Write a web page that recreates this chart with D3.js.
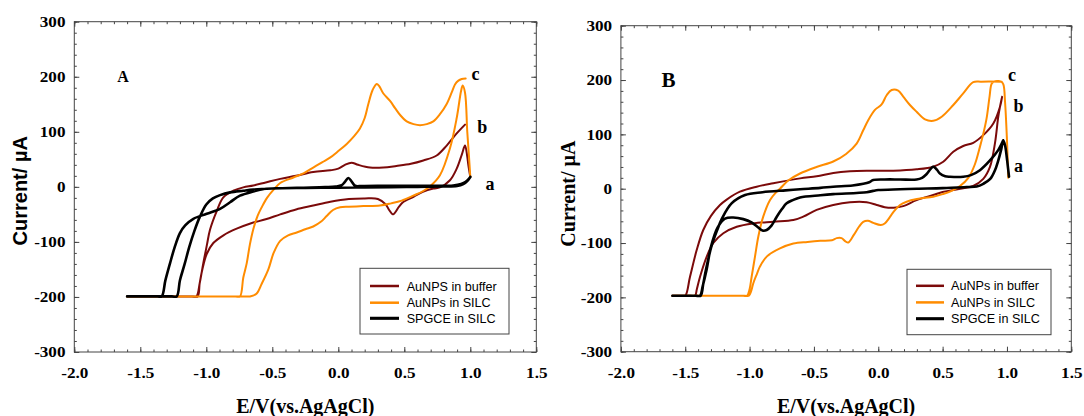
<!DOCTYPE html>
<html>
<head>
<meta charset="utf-8">
<script src="https://cdn.jsdelivr.net/npm/d3@7"></script>
<style>
body{margin:0;background:#fff;}
svg{display:block;}
</style>
</head>
<body>
<svg id="chart" width="1084" height="416"></svg>
<script>
// each series is [E (V), I (uA)] in scan order

// panel A
var blackA = [[1.00,18],[0.975,10],[0.947,5],[0.90,1.5],[0.80,0.5],[0.60,0],[0.40,-0.5],[0.20,-1],[0.0,-1.5],[-0.25,-2],[-0.45,-2.5],[-0.56,-4],[-0.644,-8.5],[-0.745,-16],[-0.82,-28],[-0.896,-40],[-0.997,-49],[-1.098,-58],[-1.16,-70],[-1.20,-84],[-1.24,-110],[-1.275,-139],[-1.31,-170],[-1.338,-199],[-1.37,-199],[-1.60,-199],[-1.26,-199],[-1.224,-199],[-1.20,-170],[-1.165,-141],[-1.13,-110],[-1.09,-80],[-1.05,-55],[-1.0,-32],[-0.95,-21],[-0.896,-15],[-0.82,-10],[-0.72,-7],[-0.644,-5],[-0.5,-3],[-0.3,-1.5],[-0.1,-0.5],[-0.02,0.5],[0.026,3],[0.05,9],[0.076,16],[0.10,10],[0.127,2],[0.18,1.5],[0.4,2],[0.7,2],[0.87,2.5],[0.93,5],[0.965,9],[1.00,18]];
var darkRedA = [[1.00,18],[0.985,40],[0.977,55],[0.96,75],[0.935,58],[0.897,33],[0.846,12],[0.77,-1],[0.72,-3],[0.64,-9],[0.57,-18],[0.49,-28],[0.46,-36],[0.415,-50],[0.385,-42],[0.36,-32],[0.30,-22],[0.2,-21],[0.08,-22],[-0.06,-27],[-0.19,-34],[-0.32,-41],[-0.44,-50],[-0.55,-59],[-0.66,-66],[-0.77,-76],[-0.87,-88],[-0.947,-102],[-0.997,-122],[-1.03,-150],[-1.05,-175],[-1.065,-199],[-1.10,-199],[-1.60,-199],[-1.11,-199],[-1.075,-199],[-1.05,-175],[-1.023,-139],[-0.995,-105],[-0.972,-78],[-0.921,-44],[-0.871,-19],[-0.795,-7],[-0.72,-1],[-0.644,2.4],[-0.55,8],[-0.44,14.5],[-0.32,20],[-0.19,27],[-0.06,30],[0.0,33],[0.05,40],[0.10,44],[0.15,40],[0.24,35],[0.34,35],[0.44,38],[0.55,42],[0.644,48],[0.745,57],[0.821,75],[0.897,97],[0.96,113]];
var orangeA = [[1.00,18],[0.99,55],[0.977,100],[0.96,171],[0.942,184],[0.93,174],[0.897,125],[0.846,70],[0.77,21],[0.70,2],[0.64,-8],[0.568,-16],[0.48,-25],[0.40,-30],[0.316,-34],[0.19,-35],[0.08,-36],[0.013,-37],[-0.04,-42],[-0.088,-53],[-0.13,-63],[-0.19,-72],[-0.25,-77],[-0.315,-83],[-0.38,-88],[-0.44,-98],[-0.49,-120],[-0.53,-150],[-0.58,-176],[-0.62,-194],[-0.669,-199],[-0.70,-199],[-1.60,-199],[-0.78,-199],[-0.745,-199],[-0.72,-165],[-0.694,-139],[-0.67,-105],[-0.644,-77],[-0.61,-52],[-0.58,-37],[-0.54,-20],[-0.49,-5],[-0.44,7],[-0.34,17],[-0.26,25],[-0.19,35],[-0.12,45],[-0.063,53],[0.0,65],[0.064,78],[0.12,92],[0.164,106],[0.20,125],[0.227,150],[0.26,176],[0.291,187],[0.31,183],[0.34,170],[0.392,156],[0.43,143],[0.47,130],[0.518,119],[0.57,114],[0.619,112],[0.67,114],[0.72,119],[0.77,132],[0.82,150],[0.86,172],[0.884,186],[0.91,193],[0.935,196],[0.965,197]];

// panel B
var blackB = [[1.016,22],[1.0,55],[0.985,80],[0.971,89],[0.955,72],[0.93,50],[0.907,34],[0.87,18],[0.816,9],[0.765,4],[0.687,3],[0.50,1],[0.30,0],[0.169,-1],[0.0,-2.5],[-0.04,-4],[-0.09,-6.5],[-0.35,-10],[-0.45,-12],[-0.608,-16],[-0.665,-21],[-0.712,-27],[-0.75,-38],[-0.79,-52],[-0.83,-68],[-0.867,-76],[-0.90,-77],[-0.935,-71],[-0.985,-62],[-1.049,-56],[-1.127,-53],[-1.191,-55],[-1.25,-72],[-1.30,-107],[-1.335,-150],[-1.365,-180],[-1.385,-197],[-1.42,-197],[-1.60,-197],[-1.41,-197],[-1.38,-197],[-1.36,-175],[-1.34,-150],[-1.295,-105],[-1.25,-75],[-1.215,-55],[-1.14,-27],[-1.035,-11.6],[-0.9,-6.5],[-0.72,-3],[-0.608,-1],[-0.45,1.5],[-0.35,3.7],[-0.2,6],[-0.116,9],[-0.07,12],[-0.039,16],[0.05,17],[0.169,17],[0.298,17],[0.34,20],[0.376,27],[0.427,40.5],[0.455,35],[0.479,28],[0.52,23],[0.557,22],[0.66,22],[0.72,25],[0.79,34],[0.868,52],[0.932,71],[0.971,89]];
var darkRedB = [[0.962,169],[0.945,150],[0.932,132],[0.907,84],[0.868,40],[0.816,18],[0.738,5],[0.66,1],[0.583,-2.4],[0.50,-6],[0.427,-11.6],[0.298,-21],[0.194,-32],[0.12,-35],[0.05,-34],[-0.012,-30],[-0.09,-25],[-0.22,-25],[-0.35,-30],[-0.479,-39],[-0.583,-51.5],[-0.66,-57.7],[-0.816,-60.7],[-0.971,-63.8],[-1.10,-70],[-1.204,-82],[-1.282,-100],[-1.333,-125],[-1.385,-162],[-1.41,-185],[-1.424,-197],[-1.46,-197],[-1.60,-197],[-1.53,-197],[-1.50,-197],[-1.463,-162],[-1.411,-113],[-1.36,-76],[-1.30,-50],[-1.23,-30],[-1.178,-20],[-1.075,-5.5],[-0.945,3.7],[-0.816,10],[-0.608,19],[-0.479,23],[-0.349,29],[-0.22,32],[-0.09,33],[0.117,33],[0.298,35.6],[0.427,40.5],[0.505,49.7],[0.583,68],[0.66,78.6],[0.738,84.5],[0.816,98.6],[0.894,120],[0.946,150.8],[0.962,169]];
var orangeB = [[1.01,20],[1.0,90],[0.985,160],[0.972,192],[0.955,197],[0.90,197],[0.881,193],[0.865,170],[0.842,130],[0.815,100],[0.79,77],[0.751,45],[0.70,20],[0.635,5],[0.57,-4],[0.50,-10],[0.427,-14.7],[0.30,-19],[0.22,-24],[0.169,-30],[0.12,-42],[0.091,-52],[0.05,-64],[0.02,-67],[-0.039,-63],[-0.08,-59],[-0.117,-61],[-0.15,-70],[-0.19,-85],[-0.233,-99],[-0.255,-97],[-0.285,-91],[-0.323,-91],[-0.36,-95],[-0.45,-96],[-0.55,-98],[-0.66,-101],[-0.764,-110],[-0.867,-125],[-0.919,-143],[-0.945,-158],[-0.971,-174],[-0.99,-190],[-1.005,-197],[-1.04,-197],[-1.60,-197],[-1.05,-197],[-1.02,-197],[-1.0,-185],[-0.984,-162],[-0.958,-125],[-0.932,-88],[-0.894,-51.5],[-0.841,-20.8],[-0.80,-8],[-0.764,0],[-0.70,15],[-0.608,28],[-0.48,40],[-0.35,50],[-0.25,64],[-0.168,83],[-0.116,108],[-0.078,126],[-0.026,145],[0.026,155],[0.065,172],[0.104,181.6],[0.155,180.4],[0.194,169.4],[0.246,154],[0.298,141.6],[0.363,127.6],[0.427,125],[0.493,132.4],[0.583,154],[0.66,175.4],[0.738,196],[0.80,197],[0.96,197]];

var xTicks = [-2.0,-1.5,-1.0,-0.5,0.0,0.5,1.0,1.5];
var yTicks = [-300,-200,-100,0,100,200,300];
var legendA = ["AuNPS in buffer","AuNPs in SILC","SPGCE in SILC"];
var legendB = ["AuNPs in buffer","AuNPs in SILC","SPGCE in SILC"];
var colors = ["#7b0a0a","#ff8c00","#000000"];
var widths = [2, 2, 2.6];

var svg = d3.select("#chart");
var serif = "'Liberation Serif','Times New Roman',serif";
var sans = "'Liberation Sans',Arial,sans-serif";

var panels = [
  {left:74.3, right:536.3, top:21.7, bottom:352, series:[darkRedA, orangeA, blackA], legend:legendA,
   name:"A", nameSize:16, yFont:sans,
   labels:[{t:"c",x:1.04,y:205},{t:"b",x:1.09,y:110},{t:"a",x:1.15,y:5}],
   leg:{x0:360, x1:509, y0:268.3, y1:334, lx0:370, lx1:399, tx:406.7, rows:[286,302.7,318.3]},
   ylab:{x:20, y:190.8}},
  {left:620.9, right:1071.3, top:25.7, bottom:351.7, series:[darkRedB, orangeB, blackB], legend:legendB,
   name:"B", nameSize:21, yFont:serif,
   labels:[{t:"c",x:1.04,y:209},{t:"b",x:1.09,y:152},{t:"a",x:1.09,y:42}],
   leg:{x0:907, x1:1051, y0:269.3, y1:334.7, lx0:916, lx1:944, tx:951, rows:[285.8,302.4,318.7]},
   ylab:{x:568, y:193.6}}
];

panels.forEach(function(p){
  var x = d3.scaleLinear().domain([-2, 1.5]).range([p.left, p.right]);
  var y = d3.scaleLinear().domain([-300, 300]).range([p.bottom, p.top]);
  var g = svg.append("g");

  // frame
  g.append("rect").attr("x", p.left).attr("y", p.top)
    .attr("width", p.right - p.left).attr("height", p.bottom - p.top)
    .attr("fill", "none").attr("stroke", "#444").attr("stroke-width", 1);

  // minor ticks, all four sides, pointing in
  var xm = x.ticks(35), ym = y.ticks(30);
  var axes = [
    [d3.axisBottom(x).tickValues(xm).tickSize(-2.5), "translate(0," + p.bottom + ")"],
    [d3.axisTop(x).tickValues(xm).tickSize(-2.5), "translate(0," + p.top + ")"],
    [d3.axisLeft(y).tickValues(ym).tickSize(-2.5), "translate(" + p.left + ",0)"],
    [d3.axisRight(y).tickValues(ym).tickSize(-2.5), "translate(" + p.right + ",0)"],
    [d3.axisTop(x).tickValues(xTicks).tickSize(-5), "translate(0," + p.top + ")"],
    [d3.axisRight(y).tickValues(yTicks).tickSize(-5), "translate(" + p.right + ",0)"]
  ];
  axes.forEach(function(a){
    var ag = g.append("g").attr("transform", a[1]).call(a[0].tickFormat(""));
    ag.select(".domain").remove();
    ag.selectAll("line").attr("stroke", "#444");
  });

  // major ticks with labels
  var xb = g.append("g").attr("transform", "translate(0," + p.bottom + ")")
    .call(d3.axisBottom(x).tickValues(xTicks).tickSize(-5).tickPadding(16)
      .tickFormat(function(d){ return d.toFixed(1); }));
  var yl = g.append("g").attr("transform", "translate(" + p.left + ",0)")
    .call(d3.axisLeft(y).tickValues(yTicks).tickSize(-5).tickPadding(7.5)
      .tickFormat(function(d){ return String(d); }));
  [xb, yl].forEach(function(ag){
    ag.select(".domain").remove();
    ag.selectAll("line").attr("stroke", "#444");
    ag.selectAll("text").attr("fill", "#000")
      .style("font-family", serif).style("font-weight", "bold").style("font-size", "14.5px")
      .attr("transform", "scale(1.18,1)");
  });

  // curves
  var line = d3.line().x(function(d){ return x(d[0]); }).y(function(d){ return y(d[1]); })
    .curve(d3.curveCatmullRom.alpha(0.5));
  p.series.forEach(function(s, i){
    g.append("path").attr("d", line(s)).attr("fill", "none")
      .attr("stroke", colors[i]).attr("stroke-width", widths[i])
      .attr("stroke-linejoin", "round").attr("stroke-linecap", "round");
  });

  // curve letters and panel name
  p.labels.forEach(function(l){
    g.append("text").attr("x", x(l.x)).attr("y", y(l.y)).attr("dy", "0.35em")
      .attr("text-anchor", "middle").style("font-family", serif)
      .style("font-weight", "bold").style("font-size", "18px").text(l.t);
  });
  g.append("text").attr("x", x(-1.63)).attr("y", y(200)).attr("dy", "0.35em")
    .attr("text-anchor", "middle").style("font-family", serif)
    .style("font-weight", "bold").style("font-size", p.nameSize + "px").text(p.name);

  // legend
  var L = p.leg;
  g.append("rect").attr("x", L.x0).attr("y", L.y0).attr("width", L.x1 - L.x0).attr("height", L.y1 - L.y0)
    .attr("fill", "#fff").attr("stroke", "#444").attr("stroke-width", 1);
  p.legend.forEach(function(t, i){
    g.append("line").attr("x1", L.lx0).attr("x2", L.lx1).attr("y1", L.rows[i]).attr("y2", L.rows[i])
      .attr("stroke", colors[i]).attr("stroke-width", widths[i] + 0.5);
    g.append("text").attr("x", L.tx).attr("y", L.rows[i] + 4.5)
      .style("font-family", sans).style("font-size", "12.6px").text(t);
  });

  // axis titles
  g.append("text").attr("transform", "translate(" + p.ylab.x + "," + p.ylab.y + ") rotate(-90)")
    .attr("text-anchor", "middle").attr("dy", "0.35em")
    .style("font-family", p.yFont).style("font-weight", "bold").style("font-size", "20px")
    .text("Current/ \u00b5A");
  g.append("text").attr("x", (p.left + p.right) / 2).attr("y", 413)
    .attr("text-anchor", "middle").style("font-family", serif)
    .style("font-weight", "bold").style("font-size", "20px").text("E/V(vs.AgAgCl)");
});
</script>
</body>
</html>
